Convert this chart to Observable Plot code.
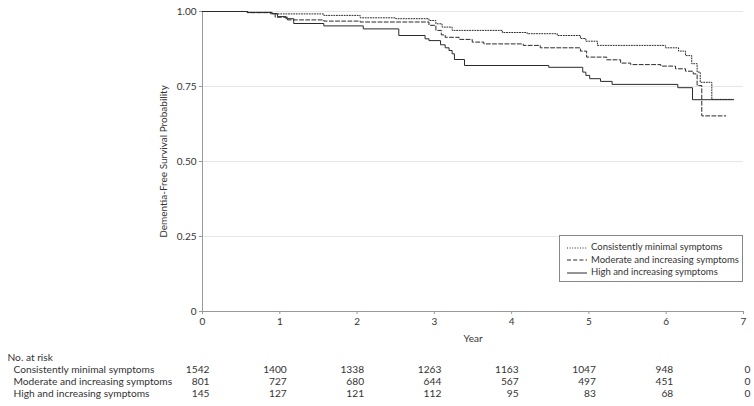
<!DOCTYPE html>
<html><head><meta charset="utf-8">
<script src="https://cdn.jsdelivr.net/npm/d3@7"></script>
<script src="https://cdn.jsdelivr.net/npm/@observablehq/plot@0.6"></script>
<style>
body{margin:0;background:#fff;font-family:Lato,sans-serif;color:#333;}
#wrap{position:relative;width:754px;height:406px;overflow:hidden;}
#wrap svg{display:block;}
#legend{position:absolute;left:559px;top:235px;width:182px;height:45px;border:1px solid #888;background:#fff;font-size:9.5px;color:#333;}
#legend .row{position:absolute;left:7px;height:12px;line-height:12px;white-space:nowrap;}
#legend svg{display:inline-block;vertical-align:middle;margin-right:4px;}
</style></head>
<body><div id="wrap"></div>
<script>
const groups = ["Consistently minimal symptoms", "Moderate and increasing symptoms", "High and increasing symptoms"];
const xTicks = [0, 1, 2, 3, 4, 5, 6, 7];
const yTicks = [0, 0.25, 0.5, 0.75, 1];
const yTickLabels = ["0", "0.25", "0.50", "0.75", "1.00"];
const riskYears = [0, 1, 2, 3, 4, 5, 6, 7];
const riskMinimal = [1542, 1400, 1338, 1263, 1163, 1047, 948, 0];
const riskModerate = [801, 727, 680, 644, 567, 497, 451, 0];
const riskHigh = [145, 127, 121, 112, 95, 83, 68, 0];

const minimalT = [0, 0.58, 0.88, 1.57, 2.04, 2.5, 2.93, 3.02, 3.10, 3.23, 3.88, 4.2, 4.59, 4.89, 4.96, 5.11, 5.99, 6.16, 6.25, 6.33, 6.4, 6.44, 6.59, 6.87];
const minimalS = [1, 0.997, 0.992, 0.987, 0.979, 0.976, 0.97, 0.959, 0.948, 0.937, 0.93, 0.926, 0.92, 0.91, 0.901, 0.887, 0.879, 0.868, 0.853, 0.826, 0.798, 0.764, 0.707, 0.707];
const moderateT = [0, 0.58, 0.9, 0.94, 1.1, 1.57, 2.04, 2.93, 3.02, 3.09, 3.14, 3.32, 3.49, 3.64, 4.15, 4.37, 4.89, 4.97, 5.23, 5.41, 5.54, 5.93, 6.12, 6.25, 6.35, 6.4, 6.46, 6.77];
const moderateS = [1, 0.996, 0.993, 0.981, 0.972, 0.968, 0.965, 0.954, 0.937, 0.922, 0.914, 0.907, 0.898, 0.892, 0.887, 0.879, 0.868, 0.848, 0.839, 0.828, 0.823, 0.818, 0.809, 0.801, 0.792, 0.753, 0.652, 0.652];
const highT = [0, 0.58, 0.9, 0.97, 1.08, 1.18, 1.57, 2.08, 2.54, 2.88, 2.93, 3.08, 3.14, 3.19, 3.23, 3.26, 3.39, 4.48, 4.92, 4.96, 5.01, 5.15, 5.30, 6.15, 6.34, 6.87];
const highS = [1, 0.997, 0.993, 0.983, 0.976, 0.96, 0.952, 0.942, 0.92, 0.909, 0.903, 0.889, 0.879, 0.87, 0.859, 0.84, 0.82, 0.814, 0.798, 0.787, 0.776, 0.767, 0.757, 0.746, 0.706, 0.706];

const toRows = (T, S) => T.map((t, i) => ({t, s: S[i]}));
const minimal = toRows(minimalT, minimalS);
const moderate = toRows(moderateT, moderateS);
const high = toRows(highT, highS);

const lineStyle = {stroke: "#2a2a2a", strokeWidth: 1, curve: "step-after"};
const dashes = ["1,1.6", "4,2.2", null];
const font = {fontFamily: "Lato, sans-serif", fontSize: "10px", color: "#333", background: "#fff"};
const tableFont = {...font, fontSize: "10.2px"};

const main = Plot.plot({
  width: 754, height: 345,
  marginTop: 11, marginBottom: 34, marginLeft: 202, marginRight: 11,
  style: font,
  x: {domain: [0, 7]},
  y: {domain: [0, 1]},
  marks: [
    Plot.gridY(yTicks.slice(1), {stroke: "#e6e6e6", strokeOpacity: 1}),
    Plot.axisX({ticks: xTicks, tickFormat: d => String(d), tickSize: 3, tickPadding: 3, stroke: "#999", label: "Year", labelAnchor: "center", labelArrow: "none", labelOffset: 30}),
    Plot.axisY({ticks: yTicks, tickFormat: (d, i) => yTickLabels[i], tickSize: 3, tickPadding: 3, stroke: "#999", label: "Dementia-Free Survival Probability", labelAnchor: "center", labelArrow: "none", labelOffset: 43}),
    Plot.ruleX([0], {stroke: "#999"}),
    Plot.ruleY([0], {stroke: "#999"}),
    Plot.line(minimal, {x: "t", y: "s", ...lineStyle, strokeDasharray: dashes[0]}),
    Plot.line(moderate, {x: "t", y: "s", ...lineStyle, strokeDasharray: dashes[1]}),
    Plot.line(high, {x: "t", y: "s", ...lineStyle})
  ]
});

const riskRows = [];
[riskMinimal, riskModerate, riskHigh].forEach((arr, g) => arr.forEach((n, i) => riskRows.push({year: riskYears[i], group: groups[g], n: String(n)})));

const table = Plot.plot({
  width: 754, height: 61,
  marginTop: 0, marginBottom: 0, marginLeft: 202, marginRight: 11,
  style: tableFont,
  x: {domain: [0, 7], axis: null},
  y: {type: "point", domain: groups, range: [23, 48], padding: 0, axis: null},
  marks: [
    Plot.text(["No. at risk"], {frameAnchor: "top-left", text: d => d, textAnchor: "start", dx: -195, dy: 8, fill: "#333"}),
    Plot.text(groups, {y: d => d, text: d => d, frameAnchor: "left", textAnchor: "start", dx: -189, fill: "#333"}),
    Plot.text(riskRows, {x: "year", y: "group", text: "n", textAnchor: "end", dx: 7, fill: "#333"})
  ]
});

const wrap = document.getElementById("wrap");
wrap.appendChild(main);
wrap.appendChild(table);

const legend = document.createElement("div");
legend.id = "legend";
groups.forEach((g, i) => {
  const row = document.createElement("div");
  row.className = "row";
  row.style.top = (5 + i * 12.5) + "px";
  const dash = dashes[i] ? `stroke-dasharray="${dashes[i]}"` : "";
  row.innerHTML = `<svg width="20" height="6"><line x1="0" x2="20" y1="3" y2="3" stroke="#2a2a2a" stroke-width="1" ${dash}/></svg><span>${g}</span>`;
  legend.appendChild(row);
});
wrap.appendChild(legend);
</script>
</body></html>
